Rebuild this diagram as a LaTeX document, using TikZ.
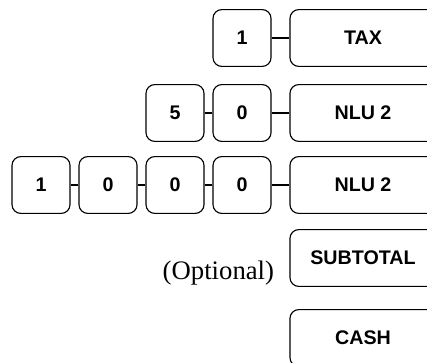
\documentclass[tikz,border=0pt]{standalone}
\usepackage{fontspec}
\setmainfont{Liberation Serif}
\setsansfont{Liberation Sans}
\usetikzlibrary{positioning}
\tikzset{
key/.style={draw,line width=0.8pt,rounded corners=0.22cm,minimum width=1.45cm,minimum height=1.42cm,inner sep=0pt,font=\sffamily\bfseries\fontsize{14}{16}\selectfont},
widekey/.style={key,minimum width=3.65cm},
}
\begin{document}
\begin{tikzpicture}[x=0.025cm,y=-0.025cm]
\useasboundingbox (0,0) rectangle (427,362);
\clip (0,0) rectangle (427,362);
% row 1
\node[key] (ka) at (242,38) {1};
\node[widekey] (tax) at (363,38) {TAX};
\draw[line width=0.8pt] (ka) -- (tax);
% row 2
\node[key] (kb1) at (175,113) {5};
\node[key] (kb2) at (242,113) {0};
\node[widekey] (nlua) at (363,113) {NLU 2};
\foreach \a/\b in {kb1/kb2,kb2/nlua}
\draw[line width=0.8pt] (\a) -- (\b);
% row 3
\node[key] (kc1) at (41,185) {1};
\node[key] (kc2) at (108,185) {0};
\node[key] (kc3) at (175,185) {0};
\node[key] (kc4) at (242,185) {0};
\node[widekey] (nlub) at (363,185) {NLU 2};
\foreach \a/\b in {kc1/kc2,kc2/kc3,kc3/kc4,kc4/nlub}
\draw[line width=0.8pt] (\a) -- (\b);
% totals
\node[widekey] (sub) at (363,258) {SUBTOTAL};
\node[anchor=east,font=\fontsize{19}{22}\selectfont] (opt) at (279,273) {(Optional)};
\node[widekey] (cash) at (363,338) {CASH};
\end{tikzpicture}
\end{document}
